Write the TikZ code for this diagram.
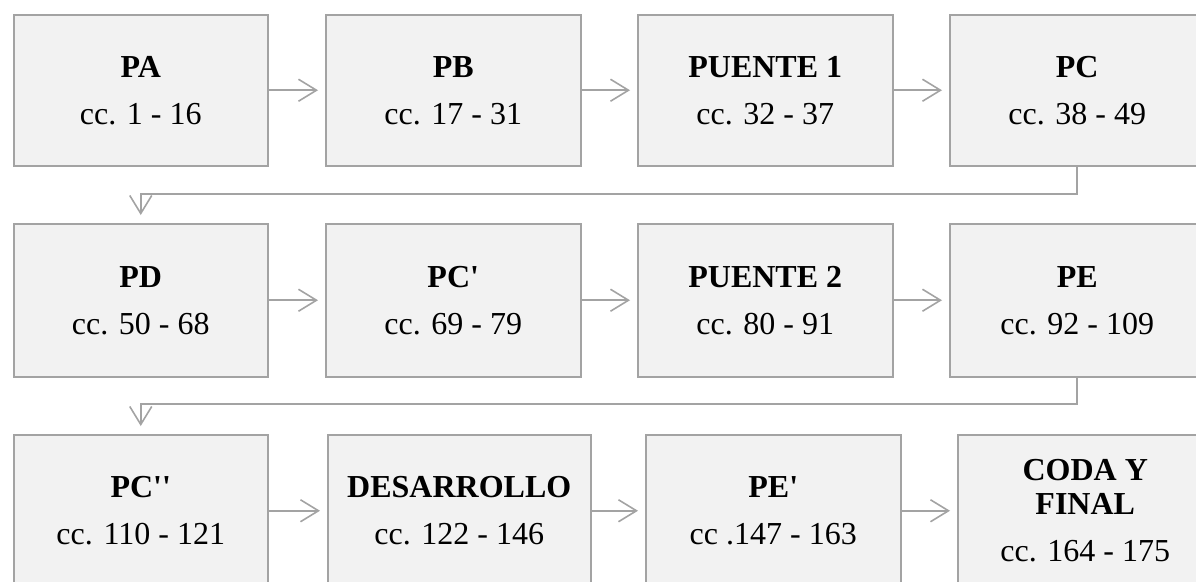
\documentclass[tikz,border=0pt]{standalone}
\usepackage{fontspec}
\setmainfont{Liberation Serif}
\usetikzlibrary{arrows.meta}
\definecolor{boxfill}{HTML}{F2F2F2}
\definecolor{edgegray}{HTML}{A3A3A3}
\newcommand\sq{\textquotesingle}
\tikzset{
  stage/.style={draw=edgegray, fill=boxfill, line width=1.5pt, rectangle,
    anchor=north west, align=center, inner sep=0pt,
    font=\fontsize{32}{34.5}\selectfont},
  flow/.style={draw=edgegray, line width=1.6pt,
    -{Straight Barb[length=18pt,width=22pt]}, shorten >=7pt},
  drop/.style={flow, shorten >=8pt},
}
\begin{document}
\begin{tikzpicture}[x=1pt,y=-1pt]
\useasboundingbox (0,0) rectangle (1196,581);
\clip (0,0) rectangle (1196,581);

% first row
\node[stage, minimum width=254pt, minimum height=151pt] (pa) at (13,14)
  {\textbf{PA}\\[12.5pt]cc. 1 - 16};
\node[stage, minimum width=255pt, minimum height=151pt] (pb) at (325,14)
  {\textbf{PB}\\[12.5pt]cc. 17 - 31};
\node[stage, minimum width=255pt, minimum height=151pt] (p1) at (637,14)
  {\textbf{PUENTE 1}\\[12.5pt]cc. 32 - 37};
\node[stage, minimum width=255pt, minimum height=151pt] (pc) at (949,14)
  {\textbf{PC}\\[12.5pt]cc. 38 - 49};

% second row
\node[stage, minimum width=254pt, minimum height=153pt] (pd) at (13,223)
  {\textbf{PD}\\[12.5pt]cc. 50 - 68};
\node[stage, minimum width=255pt, minimum height=153pt] (pc1) at (325,223)
  {\textbf{PC\sq}\\[12.5pt]cc. 69 - 79};
\node[stage, minimum width=255pt, minimum height=153pt] (p2) at (637,223)
  {\textbf{PUENTE 2}\\[12.5pt]cc. 80 - 91};
\node[stage, minimum width=255pt, minimum height=153pt] (pe) at (949,223)
  {\textbf{PE}\\[12.5pt]cc. 92 - 109};

% third row
\node[stage, minimum width=254pt, minimum height=152pt] (pc2) at (13,434)
  {\textbf{PC\sq\sq}\\[12.5pt]cc. 110 - 121};
\node[stage, minimum width=263pt, minimum height=152pt] (des) at (327,434)
  {\textbf{DESARROLLO}\\[12.5pt]cc. 122 - 146};
\node[stage, minimum width=255pt, minimum height=152pt] (pe1) at (645,434)
  {\textbf{PE\sq}\\[12.5pt]cc .147 - 163};
\node[stage, minimum width=255pt, minimum height=152pt] (coda) at (957,434)
  {\textbf{CODA Y}\\\textbf{FINAL}\\[12.5pt]cc. 164 - 175};

% connectors within rows
\draw[flow] (pa.east) -- (pb.west);
\draw[flow] (pb.east) -- (p1.west);
\draw[flow] (p1.east) -- (pc.west);
\draw[flow] (pd.east) -- (pc1.west);
\draw[flow] (pc1.east) -- (p2.west);
\draw[flow] (p2.east) -- (pe.west);
\draw[flow] (pc2.east) -- (des.west);
\draw[flow] (des.east) -- (pe1.west);
\draw[flow] (pe1.east) -- (coda.west);

% line breaks between rows
\coordinate (turn1) at (600,194);
\coordinate (turn2) at (600,404);
\draw[drop] (pc.south) |- (turn1) -| (pd.north);
\draw[drop] (pe.south) |- (turn2) -| (pc2.north);
\end{tikzpicture}
\end{document}
